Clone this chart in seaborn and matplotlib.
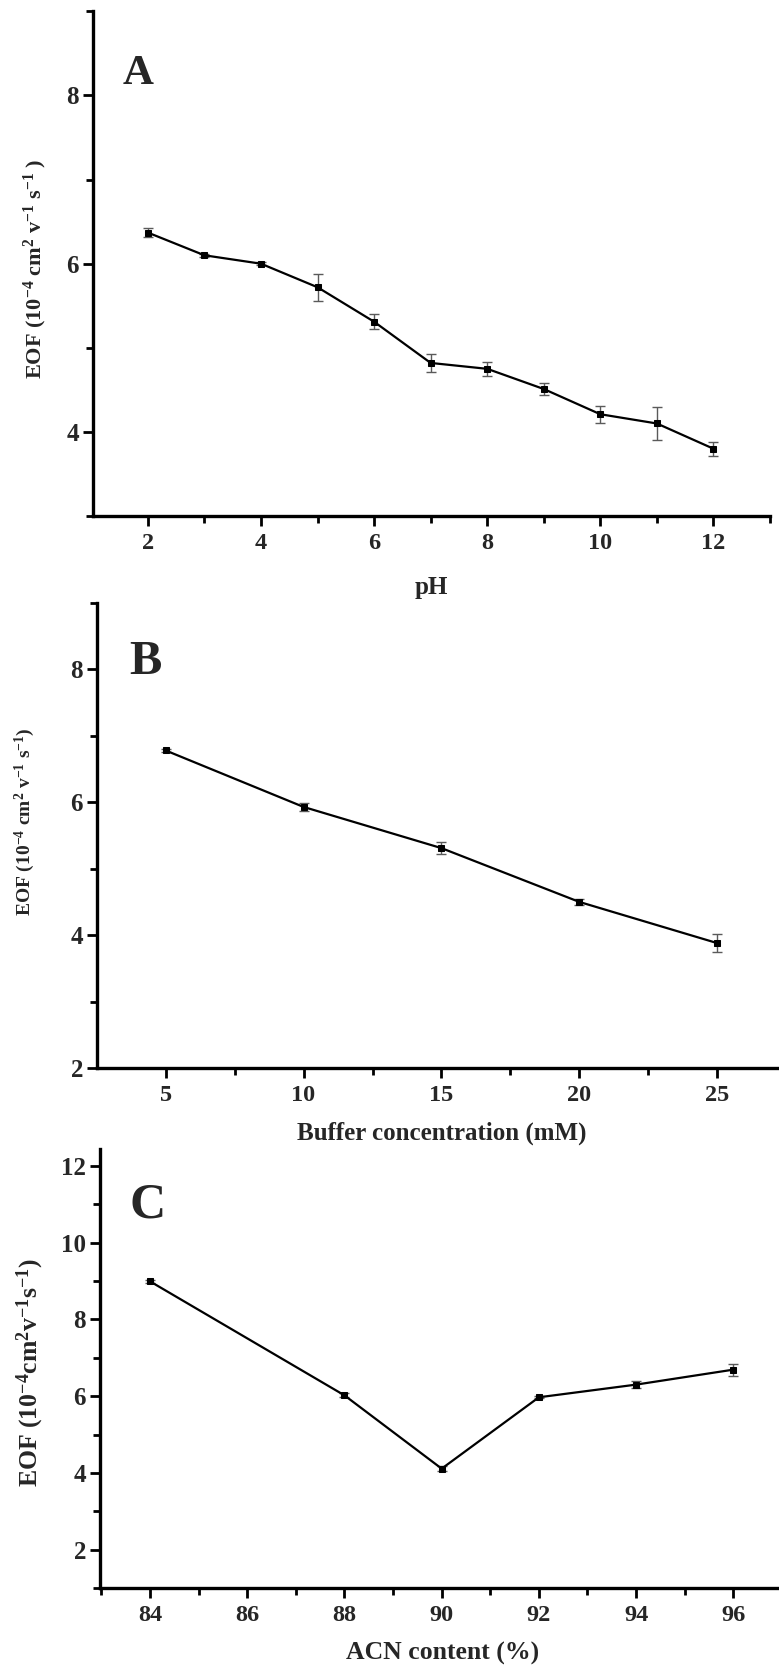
import matplotlib
matplotlib.use("Agg")
import matplotlib.pyplot as plt
import seaborn as sns
import numpy as np
import pandas as pd
from matplotlib.ticker import MultipleLocator

# ---------------- data ----------------
ph_x = [2, 3, 4, 5, 6, 7, 8, 9, 10, 11, 12]
ph_y = [6.37, 6.10, 6.00, 5.72, 5.31, 4.82, 4.75, 4.51, 4.21, 4.10, 3.80]
ph_err = [0.05, 0.02, 0.02, 0.16, 0.09, 0.11, 0.08, 0.07, 0.10, 0.195, 0.085]

buf_x = [5, 10, 15, 20, 25]
buf_y = [6.78, 5.93, 5.31, 4.50, 3.88]
buf_err = [0.02, 0.06, 0.09, 0.04, 0.13]

acn_x = [84, 88, 90, 92, 94, 96]
acn_y = [8.99, 6.02, 4.11, 5.97, 6.30, 6.69]
acn_err = [0.03, 0.05, 0.06, 0.03, 0.10, 0.16]

panel_letters = ["A", "B", "C"]
x_labels = ["pH", "Buffer concentration (mM)", "ACN content (%)"]
y_labels = [
    r"EOF (10$^{-4}$ cm$^{2}$ v$^{-1}$ s$^{-1}$ )",
    r"EOF (10$^{-4}$ cm$^{2}$ v$^{-1}$ s$^{-1}$)",
    r"EOF (10$^{-4}$cm$^{2}$v$^{-1}$s$^{-1}$)",
]
ph_xticks = [2, 4, 6, 8, 10, 12]
ph_yticks = [4, 6, 8]
buf_xticks = [5, 10, 15, 20, 25]
buf_yticks = [2, 4, 6, 8]
acn_xticks = [84, 86, 88, 90, 92, 94, 96]
acn_yticks = [2, 4, 6, 8, 10, 12]

# ---------------- style ----------------
sns.set_theme(style="ticks")
plt.rcParams["font.family"] = ["Liberation Serif", "DejaVu Serif"]
plt.rcParams["font.weight"] = "bold"
plt.rcParams["mathtext.fontset"] = "custom"
plt.rcParams["mathtext.rm"] = "Liberation Serif:bold"
plt.rcParams["mathtext.it"] = "Liberation Serif:bold"
plt.rcParams["mathtext.bf"] = "Liberation Serif:bold"
plt.rcParams["mathtext.default"] = "rm"

fig = plt.figure(figsize=(7.79, 16.70), dpi=100)
H = 1670.0
W = 779.0

def make_ax(left, right, top, bottom):
    return fig.add_axes([left / W, 1 - bottom / H, (right - left) / W, (bottom - top) / H])

axA = make_ax(93, 770, 11.4, 516)
axB = make_ax(97, 779, 603, 1068)
axC = make_ax(100, 779, 1149, 1588)

panels = [
    dict(ax=axA, x=ph_x, y=ph_y, e=ph_err, xlim=(1.03, 13.0), ylim=(3, 9),
         xt=ph_xticks, yt=ph_yticks, xminor=1, yminor=1,
         letter_pos=(0.044, 0.856), letter_size=31,
         xlabel_pos=(0.5, -0.119), xlabel_size=18,
         ylabel_pos=(-0.065, 0.49), ylabel_size=16),
    dict(ax=axB, x=buf_x, y=buf_y, e=buf_err, xlim=(2.51, 27.24), ylim=(2, 9),
         xt=buf_xticks, yt=buf_yticks, xminor=2.5, yminor=1,
         letter_pos=(0.048, 0.848), letter_size=35,
         xlabel_pos=(0.505, -0.116), xlabel_size=18,
         ylabel_pos=(-0.088, 0.53), ylabel_size=14),
    dict(ax=axC, x=acn_x, y=acn_y, e=acn_err, xlim=(82.97, 96.94), ylim=(1, 12.44),
         xt=acn_xticks, yt=acn_yticks, xminor=1, yminor=1,
         letter_pos=(0.044, 0.845), letter_size=36,
         xlabel_pos=(0.504, -0.123), xlabel_size=18.5,
         ylabel_pos=(-0.080, 0.49), ylabel_size=18.5),
]

for i, p in enumerate(panels):
    ax = p["ax"]
    df = pd.DataFrame({"x": p["x"], "y": p["y"]})
    ax.errorbar(p["x"], p["y"], yerr=p["e"], fmt="none", ecolor="#5a5a5a",
                elinewidth=1.0, capsize=3.5, capthick=1.0, zorder=2)
    sns.lineplot(data=df, x="x", y="y", ax=ax, color="black", linewidth=1.6,
                 marker="s", markersize=5, markeredgecolor="black", zorder=3)
    ax.set_xlim(*p["xlim"])
    ax.set_ylim(*p["ylim"])
    ax.set_xticks(p["xt"])
    ax.set_yticks(p["yt"])
    ax.xaxis.set_minor_locator(MultipleLocator(p["xminor"]))
    ax.yaxis.set_minor_locator(MultipleLocator(p["yminor"]))
    for s in ["top", "right"]:
        ax.spines[s].set_visible(False)
    for s in ["left", "bottom"]:
        ax.spines[s].set_linewidth(2.4)
        ax.spines[s].set_color("black")
    ax.tick_params(axis="both", which="major", direction="out", length=7, width=2,
                   color="black")
    ax.tick_params(axis="x", which="major", pad=5, labelsize=17.5)
    ax.tick_params(axis="y", which="major", pad=3, labelsize=18)
    ax.tick_params(axis="both", which="minor", direction="out", length=5, width=2,
                   color="black")
    for lab in ax.get_xticklabels() + ax.get_yticklabels():
        lab.set_fontweight("bold")
    ax.set_xlabel(x_labels[i], fontsize=p["xlabel_size"], fontweight="bold")
    ax.set_ylabel(y_labels[i], fontsize=p["ylabel_size"], fontweight="bold")
    ax.xaxis.set_label_coords(*p["xlabel_pos"])
    ax.yaxis.set_label_coords(*p["ylabel_pos"])
    ax.text(p["letter_pos"][0], p["letter_pos"][1], panel_letters[i],
            transform=ax.transAxes, fontsize=p["letter_size"], fontweight="bold",
            ha="left", va="baseline")
    ax.set_facecolor("white")

fig.savefig("out.png", dpi=100, facecolor="white")
